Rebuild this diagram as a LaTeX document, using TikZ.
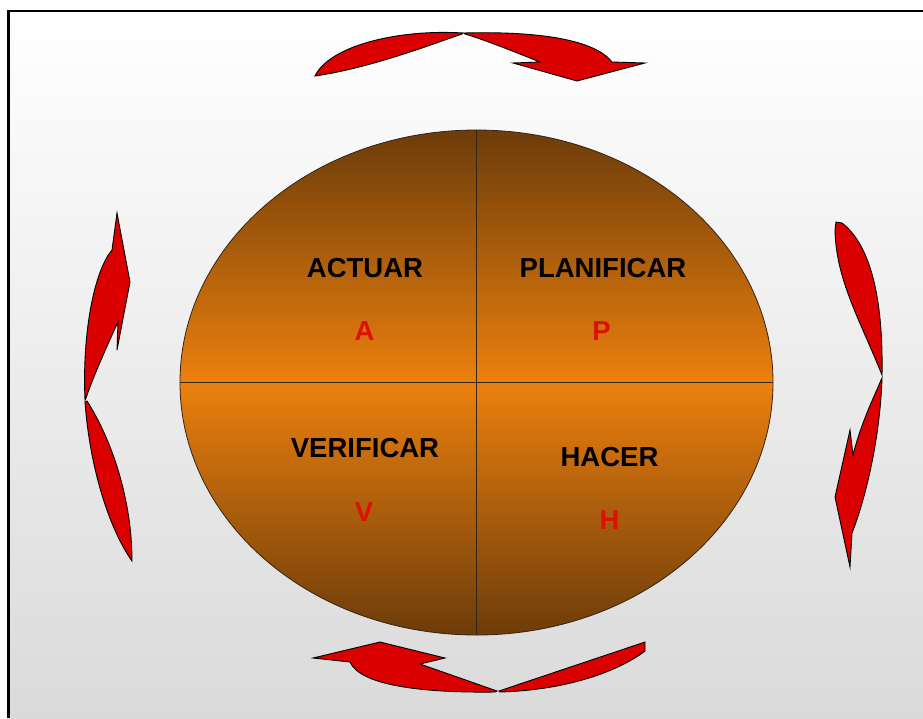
\documentclass[tikz,border=0pt]{standalone}
\usepackage{fontspec}
\setmainfont{Liberation Sans}
\usetikzlibrary{shapes.geometric}
\definecolor{brownc}{RGB}{108,60,10}
\definecolor{orangec}{RGB}{236,128,14}
\definecolor{redc}{RGB}{218,0,0}
\definecolor{letterc}{RGB}{222,16,0}
\definecolor{linec}{RGB}{50,36,22}
\definecolor{backc}{RGB}{218,218,218}
\tikzset{
  quad/.style={font=\fontsize{27.5}{30}\selectfont\bfseries, text=black, inner sep=0pt},
  letter/.style={quad, text=letterc},
  blade/.style={fill=redc, draw=black, line width=0.9pt, line join=miter},
  divider/.style={draw=linec, line width=1pt},
}

\begin{document}
\begin{tikzpicture}[x=1pt, y=-1pt]

  \useasboundingbox (0,0) rectangle (923,718);
  \fill[white] (0,0) rectangle (923,718);
  \shade[top color=white, bottom color=backc] (8.5,11) rectangle (923,718);
  \draw[line width=2.5pt] (8.5,718) -- (8.5,11) -- (923,11);

  % the cycle itself
  \node[ellipse, draw=linec, line width=0.8pt, inner sep=0pt,
        minimum width=593pt, minimum height=505pt,
        top color=brownc, bottom color=brownc, middle color=orangec] (pdca) at (476.5,382.5) {};
  \draw[divider] (pdca.north) -- (pdca.south);
  \draw[divider] (pdca.west) -- (pdca.east);

  \node[quad] (actuar) at (365,268) {ACTUAR};
  \node[letter] (actA) at (364.5,331) {A};
  \node[quad] (planificar) at (603,268) {PLANIFICAR};
  \node[letter] (planP) at (601.5,331) {P};
  \node[quad] (verificar) at (365,448) {VERIFICAR};
  \node[letter] (verV) at (364,512) {V};
  \node[quad] (hacer) at (609.5,457.5) {HACER};
  \node[letter] (hacH) at (609.5,520) {H};

  % top arrow
  \draw[blade] (463,33) .. controls (400,29) and (330,45) .. (315,76)
    .. controls (370,68) and (430,45) .. (462,34) -- cycle;
  \draw[blade] (464,33) .. controls (540,31) and (595,40) .. (612,62) -- (645,63)
    -- (577,81) -- (513,63) -- (540,62) .. controls (515,52) and (485,40) .. (465,34) -- cycle;

  % right arrow
  \draw[blade] (836,222) -- (842,223) .. controls (877,250) and (883,320) .. (882,375)
    .. controls (860,320) and (836,280) .. (835,230) -- cycle;
  \draw[blade] (882,378) .. controls (880,440) and (865,500) .. (852,533) -- (850,567)
    -- (835,497) -- (850,430) -- (853,455) .. controls (862,420) and (875,395) .. (881,380) -- cycle;

  % bottom arrow
  \draw[blade] (499,691) -- (645,642) -- (645,651)
    .. controls (620,670) and (570,690) .. (500,692) -- cycle;
  \draw[blade] (497,691) -- (420,664) -- (445,658) -- (380,642) -- (313,658) -- (350,662)
    .. controls (360,685) and (420,693) .. (495,692) -- cycle;

  % left arrow
  \draw[blade] (85,400) .. controls (82,330) and (95,270) .. (112,250) -- (117,213)
    -- (130,282) -- (117,350) -- (118,322) .. controls (105,350) and (92,380) .. (86,398) -- cycle;
  \draw[blade] (85,402) .. controls (90,470) and (110,530) .. (132,561)
    .. controls (132,500) and (112,440) .. (87,401) -- cycle;

\end{tikzpicture}
\end{document}
